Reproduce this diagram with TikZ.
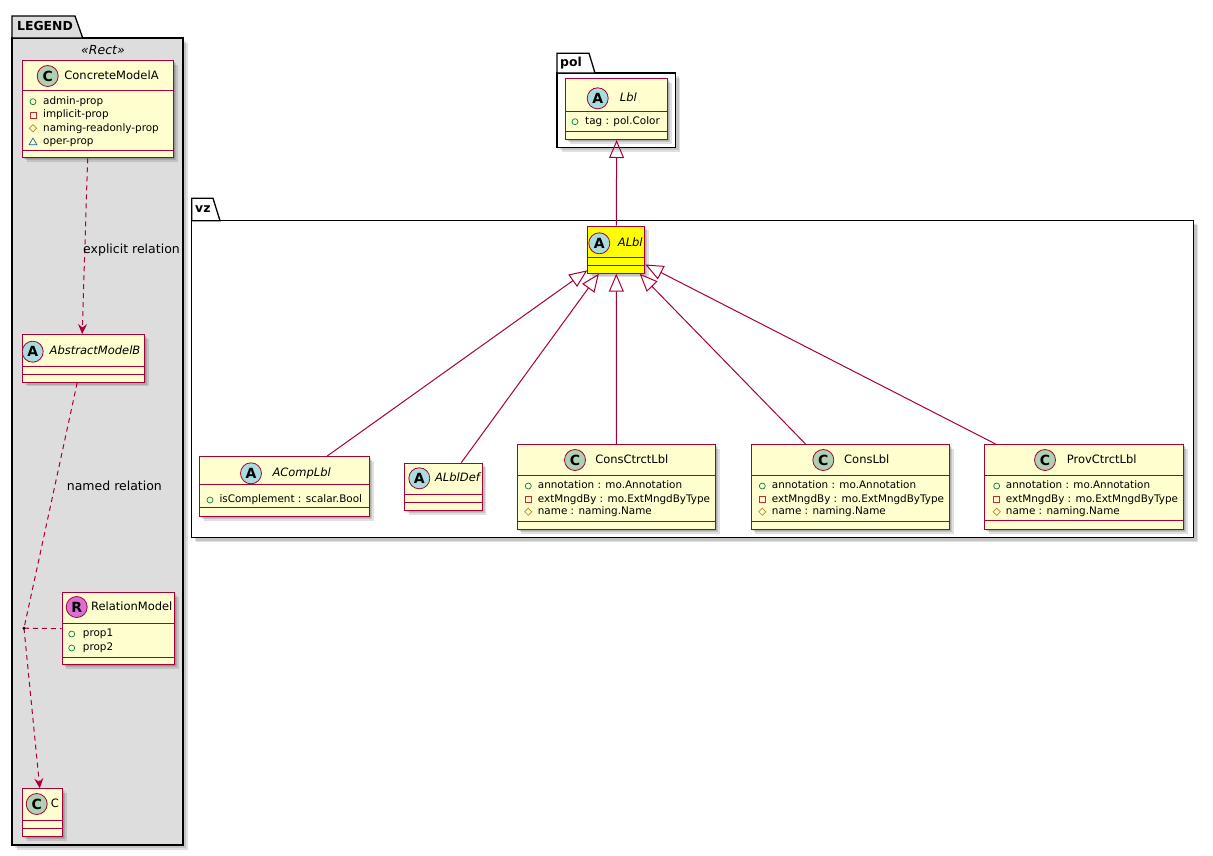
\documentclass[tikz,border=0pt]{standalone}
\usepackage{fontspec}
\setmainfont{DejaVu Sans}
\usetikzlibrary{arrows.meta,calc}
\definecolor{bcol}{HTML}{A80036}
\definecolor{cfill}{HTML}{FEFECE}
\definecolor{lgray}{HTML}{DDDDDD}
\definecolor{spotC}{HTML}{ADD1B2}
\definecolor{spotA}{HTML}{A9DCDF}
\definecolor{spotR}{HTML}{DA70D6}
\definecolor{pubc}{HTML}{038048}
\definecolor{privc}{HTML}{C82930}
\definecolor{protc}{HTML}{B38D22}
\definecolor{pkgc}{HTML}{1963A0}
\definecolor{ylw}{HTML}{FFFF00}
\tikzset{
  classbox/.style={draw=bcol, line width=1pt, inner sep=0pt, anchor=north west},
  sepline/.style={draw=bcol, line width=1pt},
  shad/.style={fill=black, opacity=0.12},
  spot/.style={circle, draw=bcol, line width=0.8pt, minimum size=21pt, inner sep=0pt, font=\fontsize{14}{14}\selectfont\bfseries},
  cname/.style={inner sep=0pt, font=\fontsize{11.5}{12}\selectfont, text height=8.5pt, text depth=2.5pt},
  aname/.style={cname, font=\fontsize{11.5}{12}\selectfont\itshape},
  attr/.style={inner sep=0pt, anchor=west, font=\fontsize{10.4}{11}\selectfont, text height=7.8pt, text depth=2.2pt},
  pkgline/.style={draw=black, line width=1.3pt},
  pkgname/.style={inner sep=0pt, anchor=west, font=\fontsize{12.4}{13}\selectfont\bfseries, text height=9pt, text depth=2.5pt},
  elabel/.style={inner sep=0pt, anchor=west, font=\fontsize{12.5}{13}\selectfont, text height=9pt, text depth=2.5pt},
  dep/.style={draw=bcol, line width=1pt, dash pattern=on 5pt off 4pt, -{Stealth[length=10pt, width=9pt, inset=3.5pt]}},
  depline/.style={draw=bcol, line width=1pt, dash pattern=on 5pt off 4pt},
  inh/.style={draw=bcol, line width=1pt, -{Triangle[open, length=18pt, width=15pt]}},
}
\newcommand\uclass[8]{%
  \fill[shad] (#2+1.5,#3+1.5) rectangle (#4+1.5,#5+1.5);
  \fill[shad] (#2+3,#3+3) rectangle (#4+3,#5+3);
  \fill[shad] (#2+4.5,#3+4.5) rectangle (#4+4.5,#5+4.5);
  \node[classbox, fill=#8, minimum width={(#4-#2)*1pt}, minimum height={(#5-#3)*1pt}] (#1) at (#2,#3) {};
  \draw[sepline] (#2,#6) -- (#4,#6);
  \draw[sepline] (#2,#7) -- (#4,#7);
}
\newcommand\ipub[2]{\draw[pubc, line width=0.7pt] (#1,#2) circle (3pt);}
\newcommand\ipriv[2]{\draw[privc, line width=0.7pt] (#1-3,#2-3) rectangle (#1+3,#2+3);}
\newcommand\iprot[2]{\draw[protc, line width=0.7pt] (#1,#2-3.6) -- (#1+3.6,#2) -- (#1,#2+3.6) -- (#1-3.6,#2) -- cycle;}
\newcommand\ipkg[2]{\draw[pkgc, line width=0.7pt] (#1,#2-3.6) -- (#1+3.9,#2+3) -- (#1-3.9,#2+3) -- cycle;}
\begin{document}
\begin{tikzpicture}[x=1pt, y=-1pt]
\useasboundingbox[fill=white] (0,0) rectangle (1213,855);

% ---------------- LEGEND package ----------------
\fill[shad] (15,41) rectangle (186,848);
\fill[shad] (16.5,42.5) rectangle (187.5,849.5);
\draw[pkgline, fill=lgray] (12,38) rectangle (183,845);
\draw[pkgline, fill=lgray] (12,38) -- (12,16) -- (75,16) -- (82.7,38) -- cycle;
\node[pkgname] (legendlbl) at (17,27.5) {LEGEND};
\node[inner sep=0pt, font=\fontsize{12.5}{13}\selectfont\itshape] (stereo) at (103,50) {«Rect»};

% ConcreteModelA
\uclass{cma}{22.3}{60}{173}{157.3}{90.7}{150.7}{cfill}
\node[spot, fill=spotC] (cmaS) at (47.7,76) {C};
\node[cname] (cmaN) at (111.5,76) {ConcreteModelA};
\ipub{33}{101.7}  \node[attr] (cmaA1) at (43,101.7) {admin-prop};
\ipriv{33}{115}   \node[attr] (cmaA2) at (43,115) {implicit-prop};
\iprot{33}{128.3} \node[attr] (cmaA3) at (43,128.3) {naming-readonly-prop};
\ipkg{33}{141.7}  \node[attr] (cmaA4) at (43,141.7) {oper-prop};

% AbstractModelB
\uclass{amb}{22.3}{334}{144.3}{381.7}{366.7}{374}{cfill}
\node[spot, fill=spotA] (ambS) at (32.7,351.7) {A};
\node[aname] (ambN) at (95,351.7) {AbstractModelB};

% RelationModel
\uclass{rm}{61.7}{592.3}{174.3}{664}{623.3}{657.3}{cfill}
\node[spot, fill=spotR] (rmS) at (76.7,607) {R};
\node[cname] (rmN) at (131.7,607) {RelationModel};
\ipub{71.7}{634} \node[attr] (rmA1) at (82.7,634) {prop1};
\ipub{71.7}{648} \node[attr] (rmA2) at (82.7,648) {prop2};

% C
\uclass{cc}{22.3}{788.3}{62.3}{836}{820.7}{828.3}{cfill}
\node[spot, fill=spotC] (ccS) at (36.7,804) {C};
\node[cname] (ccN) at (55,804) {C};

% legend connectors
\draw[dep] ([xshift=-10.5pt]cma.south) -- ([xshift=-1.6pt]amb.north);
\node[elabel] (lbl1) at (83,250) {explicit relation};
\coordinate (rdot) at (24,628.2);
\draw[depline] ([xshift=-6.6pt]amb.south) -- (rdot);
\draw[dep] (rdot) -- ([xshift=-3pt]cc.north);
\draw[depline] (rdot) -- (rm.west);
\fill[black] (rdot) circle (1.6pt);
\node[elabel] (lbl2) at (66.7,487.3) {named relation};

% ---------------- pol package ----------------
\fill[shad] (560,76) rectangle (678.7,150.3);
\fill[shad] (561.5,77.5) rectangle (680.2,151.8);
\draw[pkgline, fill=white] (557,73) rectangle (675.7,147.3);
\draw[pkgline, fill=white] (557,73) -- (557,53.3) -- (589,53.3) -- (595,73) -- cycle;
\node[pkgname] (pollbl) at (560,63.5) {pol};

\uclass{lbl}{565}{78.3}{667.3}{139}{111}{131}{cfill}
\node[spot, fill=spotA] (lblS) at (597.7,98.3) {A};
\node[aname] (lblN) at (628.3,98.3) {Lbl};
\ipub{575}{121.7} \node[attr] (lblA1) at (585,121.7) {tag : pol.Color};

% ---------------- vz package ----------------
\fill[shad] (194.7,223.7) rectangle (1196.5,540.7);
\fill[shad] (196.2,225.2) rectangle (1198,542.2);
\draw[pkgline, fill=white] (191.7,220.7) rectangle (1193.5,537.7);
\draw[pkgline, fill=white] (191.7,220.7) -- (191.7,198.3) -- (213,198.3) -- (220,220.7) -- cycle;
\node[pkgname] (vzlbl) at (195,209.5) {vz};

% ALbl
\uclass{albl}{587.3}{225.7}{644.3}{272.7}{257.7}{265.3}{ylw}
\node[spot, fill=spotA] (alblS) at (599.3,243.3) {A};
\node[aname] (alblN) at (630.3,243.3) {ALbl};

% ACompLbl
\uclass{acomp}{199.3}{456}{369.3}{516}{484.3}{507.7}{cfill}
\node[spot, fill=spotA] (acompS) at (251,473.3) {A};
\node[aname] (acompN) at (301.7,473.3) {ACompLbl};
\ipub{210}{500} \node[attr] (acompA1) at (219.3,500) {isComplement : scalar.Bool};

% ALblDef
\uclass{adef}{404}{462.7}{481.7}{510}{494.3}{502.3}{cfill}
\node[spot, fill=spotA] (adefS) at (419.3,478.3) {A};
\node[aname] (adefN) at (457.5,478.3) {ALblDef};

% ConsCtrctLbl
\uclass{ccl}{516.7}{444}{715}{529.3}{475}{521.7}{cfill}
\node[spot, fill=spotC] (cclS) at (575,460) {C};
\node[cname] (cclN) at (631.8,460) {ConsCtrctLbl};
\ipub{528.3}{486}    \node[attr] (cclA1) at (537.7,486) {annotation : mo.Annotation};
\ipriv{528.3}{499.3} \node[attr] (cclA2) at (537.7,499.3) {extMngdBy : mo.ExtMngdByType};
\iprot{528.3}{511.7} \node[attr] (cclA3) at (537.7,511.7) {name : naming.Name};

% ConsLbl
\uclass{cl}{750.7}{444}{949.3}{529.3}{475}{521.7}{cfill}
\node[spot, fill=spotC] (clS) at (823.3,460) {C};
\node[cname] (clN) at (866.8,460) {ConsLbl};
\ipub{762.3}{486}    \node[attr] (clA1) at (771.7,486) {annotation : mo.Annotation};
\ipriv{762.3}{499.3} \node[attr] (clA2) at (771.7,499.3) {extMngdBy : mo.ExtMngdByType};
\iprot{762.3}{511.7} \node[attr] (clA3) at (771.7,511.7) {name : naming.Name};

% ProvCtrctLbl
\uclass{pcl}{984}{444}{1183.3}{529}{475}{520.7}{cfill}
\node[spot, fill=spotC] (pclS) at (1045,460) {C};
\node[cname] (pclN) at (1101.7,460) {ProvCtrctLbl};
\ipub{996.7}{486}    \node[attr] (pclA1) at (1005.7,486) {annotation : mo.Annotation};
\ipriv{996.7}{499.3} \node[attr] (pclA2) at (1005.7,499.3) {extMngdBy : mo.ExtMngdByType};
\iprot{996.7}{511.7} \node[attr] (pclA3) at (1005.7,511.7) {name : naming.Name};

% inheritance connectors
\draw[inh] (albl.north) -- (lbl.south);
\draw[inh] ([xshift=42.4pt]acomp.north) -- (albl);
\draw[inh] ([xshift=17.9pt]adef.north) -- (albl);
\draw[inh] (ccl.north) -- (albl);
\draw[inh] ([xshift=-45pt]cl.north) -- (albl);
\draw[inh] ([xshift=-88.6pt]pcl.north) -- (albl);
\end{tikzpicture}
\end{document}
